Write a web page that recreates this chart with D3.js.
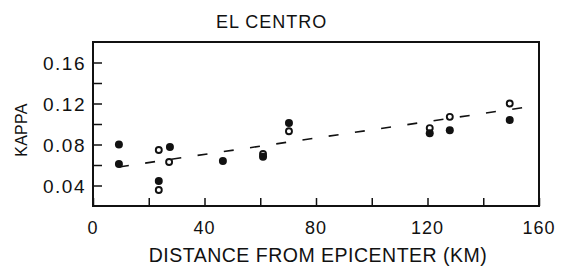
<!DOCTYPE html>
<html><head><meta charset="utf-8">
<script src="https://cdn.jsdelivr.net/npm/d3@7"></script>
<style>body{margin:0;background:#fff}svg{display:block}text{font-family:"Liberation Sans",Arial,sans-serif;fill:#111}</style>
</head><body><svg id="c" width="562" height="267"></svg>
<script>
const title = "EL CENTRO";
const xLabel = "DISTANCE FROM EPICENTER (KM)";
const yLabel = "KAPPA";
const xTicks = [0, 20, 40, 60, 80, 100, 120, 140, 160];
const xTickLabels = [0, 40, 80, 120, 160];
const yTicks = [0.04, 0.06, 0.08, 0.10, 0.12, 0.14, 0.16];
const yTickLabels = [0.04, 0.08, 0.12, 0.16];
const filledX = [9.3, 9.3, 23.6, 27.6, 46.6, 61, 70.3, 120.8, 128, 149.5];
const filledY = [0.080, 0.061, 0.0444, 0.0776, 0.0639, 0.068, 0.101, 0.091, 0.094, 0.104];
const openX = [23.6, 23.6, 27.3, 61, 70.3, 120.8, 128, 149.5];
const openY = [0.0746, 0.0356, 0.0629, 0.0707, 0.093, 0.096, 0.107, 0.120];
const fitX = [9.3, 157];
const fitY = [0.0581, 0.1171];

const svg = d3.select("#c");
const m = {l: 93, r: 539, t: 42, b: 206};
const x = d3.scaleLinear().domain([0, 160]).range([m.l, m.r]);
const y = d3.scaleLinear().domain([0.02, 0.18]).range([m.b, m.t]);

// ticks (inward)
const xa = d3.axisBottom(x).tickValues(xTicks).tickSize(-8).tickFormat("");
svg.append("g").attr("transform", `translate(0,${m.b})`).call(xa)
  .call(g => { g.select(".domain").remove(); g.selectAll("line").attr("stroke", "#111").attr("stroke-width", 1.5); });
const ya = d3.axisLeft(y).tickValues(yTicks).tickSize(-9).tickFormat("");
svg.append("g").attr("transform", `translate(${m.l},0)`).call(ya)
  .call(g => { g.select(".domain").remove(); g.selectAll("line").attr("stroke", "#111").attr("stroke-width", 1.5); });

// frame
svg.append("rect").attr("x", m.l).attr("y", m.t).attr("width", m.r - m.l).attr("height", m.b - m.t)
  .attr("fill", "none").attr("stroke", "#111").attr("stroke-width", 2);

// tick labels
svg.append("g").selectAll("text").data(xTickLabels).join("text")
  .attr("x", d => x(d)).attr("y", 234).attr("text-anchor", "middle")
  .attr("font-size", 18).style("letter-spacing", "1px").text(d => d);
svg.append("g").selectAll("text").data(yTickLabels).join("text")
  .attr("x", 86).attr("y", d => y(d) + 7).attr("text-anchor", "end")
  .attr("font-size", 19).style("letter-spacing", "1.5px").text(d => d.toFixed(2));

// labels
svg.append("text").attr("x", 216).attr("y", 28).attr("font-size", 18)
  .style("letter-spacing", "1px").text(title);
svg.append("text").attr("x", 318).attr("y", 262).attr("text-anchor", "middle")
  .attr("font-size", 19.5).style("letter-spacing", "0.5px").text(xLabel);
svg.append("text").attr("transform", "translate(27,130) rotate(-90)").attr("text-anchor", "middle")
  .attr("font-size", 16).style("letter-spacing", "0.3px").text(yLabel);

// fit line
const line = d3.line().x(d => x(d[0])).y(d => y(d[1]));
svg.append("path").datum(d3.zip(fitX, fitY)).attr("d", line)
  .attr("fill", "none").attr("stroke", "#111").attr("stroke-width", 1.6).attr("stroke-dasharray", "10,16.5");

// open markers
svg.append("g").selectAll("circle").data(d3.zip(openX, openY)).join("circle")
  .attr("cx", d => x(d[0])).attr("cy", d => y(d[1])).attr("r", 3)
  .attr("fill", "#fff").attr("stroke", "#111").attr("stroke-width", 1.9);
// filled markers
const star = d3.symbol().type(d3.symbolCircle).size(50);
svg.append("g").selectAll("path").data(d3.zip(filledX, filledY)).join("path")
  .attr("transform", d => `translate(${x(d[0])},${y(d[1])})`).attr("d", star).attr("fill", "#111");
</script></body></html>
